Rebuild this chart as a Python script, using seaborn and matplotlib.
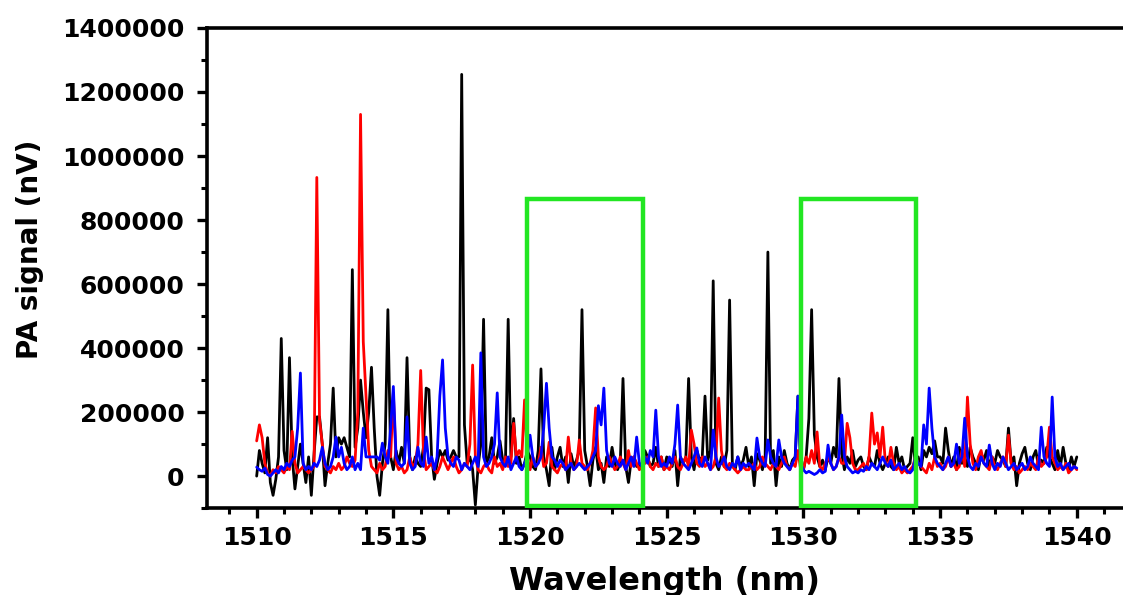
import numpy as np
import pandas as pd
import matplotlib
matplotlib.use("Agg")
import matplotlib.pyplot as plt
from matplotlib.patches import Rectangle
from matplotlib.ticker import MultipleLocator
import seaborn as sns

# Wavelength grid (nm): 1510.0 .. 1540.0 every 0.1 nm
wl_start, wl_stop, wl_step = 1510.0, 1540.0, 0.1

# PA signal values in thousands of nV (one row = one nm, 10 samples)
black_k = [
    0, 80, 40, 10, 120, -20, -60, -10, 60, 430,
    80, 20, 370, 60, -40, 30, 100, 40, -20, 60,
    -60, 70, 185, 185, 100, -30, 40, 100, 275, 60,
    120, 100, 120, 90, 60, 645, 90, 150, 300, 200,
    120, 200, 340, 150, 0, -60, 40, 100, 520, 60,
    20, 80, 40, 90, 40, 370, 60, 20, 60, 40,
    30, 90, 275, 270, 60, -10, 40, 80, 60, 80,
    50, 60, 80, 60, 60, 1255, 160, 40, 60, 20,
    -90, 30, 100, 490, 40, 60, 120, 40, 60, 110,
    50, 40, 490, 60, 180, 40, 60, 20, 40, 80,
    60, 30, 20, 80, 335, 60, 20, -30, 90, 20,
    60, 90, 30, 60, -20, 70, 30, 50, 80, 520,
    80, 30, -30, 50, 90, 20, 40, -20, 60, 30,
    90, 40, 20, 40, 305, 30, -20, 50, 60, 30,
    40, 20, 80, 60, 30, 40, 90, 30, 60, 20,
    60, 50, 30, 80, -30, 60, 40, 60, 305, 60,
    20, 80, 50, 60, 250, 50, 80, 610, 40, 20,
    60, 30, 80, 550, 40, 20, 60, 30, 50, 90,
    30, 60, -30, 70, 50, 20, 60, 700, 40, 80,
    -30, 60, 30, 80, 40, 20, 50, 60, 250, 40,
    20, 60, 180, 520, 130, 60, 30, 50, 20, 60,
    40, 90, 60, 305, 70, 20, 60, 40, 80, 30,
    50, 60, 30, 20, 60, 40, 30, 80, 40, 20,
    40, 60, 30, 20, 90, 40, 60, 20, 30, 40,
    120, 30, 60, 20, 80, 60, 90, 70, 110, 60,
    60, 40, 150, 80, 30, 60, 20, 90, 40, 60,
    30, 90, 60, 40, 20, 70, 50, 80, 30, 60,
    40, 80, 60, 50, 30, 150, 40, 60, -30, 40,
    70, 90, 40, 20, 60, 80, 30, 50, 40, 90,
    60, 40, 20, 80, 30, 90, 40, 20, 60, 30,
    60,
]

red_k = [
    110, 160, 120, 40, 10, 0, 20, 10, 30, 20,
    10, 30, 20, 140, 40, 10, 20, 30, 20, 10,
    20, 30, 933, 175, 100, 30, 20, 10, 30, 20,
    40, 20, 30, 60, 40, 30, 50, 200, 1130, 420,
    250, 80, 30, 20, 10, 40, 20, 30, 80, 60,
    260, 40, 20, 30, 10, 20, 60, 30, 40, 100,
    330, 80, 20, 30, 40, 20, 10, 30, 60, 40,
    20, 40, 60, 30, 10, 20, 40, 30, 100, 347,
    60, 20, 10, 30, 40, 20, 10, 60, 30, 40,
    20, 60, 30, 40, 165, 60, 80, 60, 238, 60,
    20, 60, 30, 40, 90, 30, 40, 106, 30, 20,
    10, 30, 40, 20, 122, 40, 20, 30, 113, 40,
    30, 20, 40, 80, 213, 60, 30, 20, 30, 60,
    40, 20, 30, 60, 40, 20, 80, 30, 60, 40,
    20, 30, 40, 60, 30, 20, 40, 30, 60, 20,
    30, 20, 40, 60, 30, 20, 40, 60, 30, 144,
    100, 40, 30, 60, 30, 40, 20, 30, 60, 244,
    80, 30, 20, 40, 30, 20, 10, 20, 30, 20,
    20, 30, 40, 20, 30, 60, 40, 30, 20, 40,
    30, 20, 40, 60, 30, 20, 40, 30, 80, 20,
    20, 60, 40, 80, 40, 138, 30, 20, 40, 60,
    40, 20, 30, 60, 40, 40, 165, 120, 40, 20,
    20, 30, 40, 20, 60, 197, 100, 135, 60, 153,
    40, 30, 90, 40, 20, 30, 10, 20, 10, 20,
    30, 60, 40, 30, 20, 10, 40, 20, 60, 30,
    40, 20, 30, 60, 30, 40, 20, 30, 80, 30,
    247, 100, 40, 20, 60, 80, 40, 30, 20, 60,
    30, 20, 40, 60, 30, 128, 40, 20, 30, 10,
    20, 30, 20, 40, 30, 20, 60, 30, 40, 60,
    153, 60, 40, 20, 30, 20, 40, 10, 20, 30,
    20,
]

blue_k = [
    28, 20, 15, 25, 5, 0, 10, 20, 10, 30,
    20, 40, 30, 50, 60, 150, 322, 40, 20, 30,
    20, 40, 30, 50, 90, 40, 20, 30, 60, 122,
    60, 90, 40, 20, 30, 60, 20, 40, 20, 150,
    60, 60, 60, 60, 60, 50, 103, 60, 40, 150,
    280, 60, 40, 30, 40, 185, 40, 20, 30, 90,
    40, 30, 122, 40, 60, 20, 60, 250, 363, 150,
    60, 40, 30, 60, 50, 20, 40, 30, 20, 40,
    60, 30, 385, 60, 30, 40, 60, 100, 260, 60,
    40, 30, 60, 20, 40, 60, 30, 20, 40, 60,
    128, 60, 30, 40, 60, 150, 290, 150, 60, 50,
    30, 50, 40, 20, 30, 40, 20, 30, 40, 30,
    20, 30, 40, 60, 80, 220, 160, 275, 80, 40,
    30, 60, 40, 30, 50, 20, 40, 60, 30, 122,
    40, 30, 60, 40, 80, 60, 206, 60, 30, 40,
    30, 60, 40, 100, 222, 60, 40, 30, 20, 40,
    60, 88, 40, 30, 60, 40, 20, 144, 60, 30,
    40, 60, 30, 20, 40, 30, 60, 20, 40, 30,
    40, 30, 20, 119, 60, 40, 30, 113, 60, 40,
    30, 113, 60, 40, 30, 20, 40, 60, 250, 40,
    20, 10, 15, 10, 5, 10, 20, 10, 15, 97,
    40, 20, 30, 60, 191, 60, 30, 20, 10, 15,
    10, 20, 15, 30, 20, 40, 30, 20, 40, 60,
    40, 30, 50, 20, 30, 40, 20, 30, 15, 10,
    20, 60, 40, 30, 160, 100, 275, 150, 60, 40,
    30, 20, 40, 60, 30, 40, 100, 40, 60, 181,
    60, 30, 20, 40, 30, 60, 40, 30, 97, 40,
    20, 40, 30, 60, 40, 20, 30, 40, 20, 30,
    40, 20, 30, 60, 40, 30, 20, 153, 60, 40,
    30, 247, 60, 30, 40, 20, 30, 40, 20, 30,
    25,
]

series_names = ["black", "red", "blue"]
series_colors = ["#000000", "#ff0000", "#0000ff"]

box_starts = [1519.9, 1529.9]
box_ends = [1524.15, 1534.1]
box_bottom = -92000
box_top = 865000

x_ticks = [1510, 1515, 1520, 1525, 1530, 1535, 1540]
y_ticks = [0, 200000, 400000, 600000, 800000, 1000000, 1200000, 1400000]

x_label = "Wavelength (nm)"
y_label = "PA signal (nV)"

# ---------------------------------------------------------------------------
wl = np.round(np.arange(len(black_k)) * wl_step + wl_start, 2)
frames = []
for name, vals in zip(series_names, [black_k, red_k, blue_k]):
    frames.append(pd.DataFrame({"wl": wl, "signal": np.array(vals) * 1000.0, "series": name}))
df = pd.concat(frames, ignore_index=True)

sns.set_style("ticks")
plt.rcParams["font.family"] = ["DejaVu Sans"]
plt.rcParams["font.weight"] = "bold"
plt.rcParams["text.color"] = "black"
plt.rcParams["axes.labelcolor"] = "black"
plt.rcParams["xtick.color"] = "black"
plt.rcParams["ytick.color"] = "black"

fig = plt.figure(figsize=(11.23, 5.95), dpi=100)
ax = fig.add_axes([0.184, 0.146, 0.816, 0.807])

for name, col in zip(series_names, series_colors):
    sns.lineplot(data=df[df["series"] == name], x="wl", y="signal", color=col,
                 linewidth=2.0, ax=ax, legend=False, estimator=None, sort=False)

for xs, xe in zip(box_starts, box_ends):
    ax.add_patch(Rectangle((xs, box_bottom), xe - xs, box_top - box_bottom,
                           fill=False, edgecolor="#22e622", linewidth=3.2, zorder=5))

ax.set_xlim(1508.17, 1541.69)
ax.set_ylim(-100000, 1400000)
ax.set_xticks(x_ticks)
ax.set_yticks(y_ticks)
ax.xaxis.set_minor_locator(MultipleLocator(1))
ax.yaxis.set_minor_locator(MultipleLocator(100000))
ax.set_xticklabels([str(t) for t in x_ticks], fontsize=18, fontweight="bold", color="black")
ax.set_yticklabels([str(t) for t in y_ticks], fontsize=18, fontweight="bold", color="black")
ax.tick_params(axis="y", which="major", direction="out", length=7, width=2.4, pad=9)
ax.tick_params(axis="x", which="major", direction="out", length=7, width=2.4, pad=6)
ax.tick_params(which="minor", direction="out", length=4.5, width=2.2)
ax.tick_params(top=False, right=False, which="both")

for side in ["left", "bottom", "top"]:
    ax.spines[side].set_linewidth(2.6)
    ax.spines[side].set_color("black")
ax.spines["right"].set_visible(False)

ax.set_xlabel(x_label, fontsize=23, fontweight="bold", color="black")
ax.set_ylabel(y_label, fontsize=20, fontweight="bold", color="black")
ax.xaxis.set_label_coords(0.5, -0.12)
ax.yaxis.set_label_coords(-0.178, 0.54)

fig.savefig("out.png", dpi=100)
